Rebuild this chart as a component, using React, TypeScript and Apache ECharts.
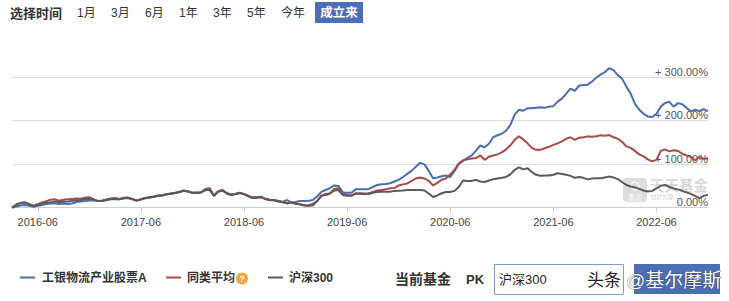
import React, { useEffect, useRef } from "react";
import * as echarts from "echarts";

const FONT = "'Liberation Sans', Arial, 'Noto Sans CJK SC', sans-serif";

const seriesNames = ["工银物流产业股票A", "同类平均", "沪深300"];
const seriesColors = ["#4a6dab", "#a8484a", "#5a5a5a"];

const startYear = 2016;
const startMonth = 3;
const endYear = 2022;
const endMonth = 12;

const tickLabels = ["2016-06", "2017-06", "2018-06", "2019-06", "2020-06", "2021-06", "2022-06"];
const yTicks = [0, 100, 200, 300];

// cumulative return (%) sampled twice a month (1st and 16th)
const fundValues = [
  0, 2.5, 5, 6, 4, 2, 4, 6, 8.5, 9.5,
  9.5, 8.5, 9.5, 8.5, 9.5, 13, 14, 15, 16.5, 16.5,
  15, 15, 17.5, 19, 19, 19, 21.5, 22.5, 20, 16.5,
  19, 22, 23.5, 25, 27.5, 28.5, 30.5, 32, 33.5, 36,
  39, 37, 34, 34, 35, 41, 42, 28, 37, 39.5,
  33, 30, 31.5, 34, 31, 27, 23, 24, 24, 20,
  18, 17, 15, 13, 17.5, 12, 13, 15, 15, 15.5,
  17.5, 25.5, 36, 40.5, 45, 51, 50, 35, 34, 34,
  42, 42.5, 42, 43, 47.5, 52, 54, 54.5, 56, 60,
  64, 70.5, 77.5, 84.5, 94, 103, 99.5, 84.5, 67.5, 69.5,
  72, 74, 70.5, 84.5, 100.5, 107.5, 114.5, 120, 131, 143,
  139, 147, 162, 166.5, 170, 177, 190.5, 214, 225.5, 223,
  229, 229, 230, 231, 230, 232.5, 233.5, 244, 251, 262.5,
  274, 269, 281, 282, 283, 290, 299.5, 306, 312, 321,
  316.5, 305, 297, 278.5, 262.5, 239, 225.5, 216, 210, 208.5,
  216, 232.5, 241, 243.5, 232.5, 240.5, 238, 230, 221.5, 225.5,
  222, 227, 221.5,
];

const avgValues = [
  0, 6, 11, 12, 7, 4, 8, 12, 15, 18,
  19, 16, 18, 19, 20, 21, 20.5, 22.5, 24, 19,
  15, 16.5, 19, 21, 22, 20, 22.5, 23, 20, 16,
  19.5, 22, 24, 25.5, 28, 28.5, 31, 32.5, 34, 36.5,
  39.5, 37, 34, 34, 35.5, 43, 44.5, 27, 38, 40.5,
  32.5, 29, 31.5, 34, 31.5, 27, 23, 24, 25, 20,
  18, 17.5, 15, 13, 10, 12, 10.5, 7.5, 5.5, 4,
  5, 15, 27, 31.5, 32.5, 43, 44.5, 31.5, 29, 28,
  32.5, 33, 32.5, 33, 36, 39.5, 40.5, 42, 44.5, 45,
  51, 53.5, 55.5, 61.5, 67, 69.5, 67, 61.5, 51, 57,
  64, 67, 76.5, 87, 102, 109, 111, 113, 114, 120,
  110, 117, 120, 122.5, 127, 134, 143.5, 156, 164, 157,
  148, 137.5, 133, 133, 136.5, 140, 144.5, 148, 152.5, 158.5,
  162, 156, 161, 162, 164, 163, 164, 166.5, 165.5, 167,
  162, 158.5, 151.5, 141, 137.5, 130.5, 122.5, 118, 111, 106.5,
  110, 130.5, 134, 129.5, 132, 130.5, 124, 120, 117, 109,
  117, 112, 114,
];

const hs300Values = [
  0, 7, 10.5, 12, 8.5, 4, 6, 9.5, 12, 12,
  14, 13, 13.5, 14, 15.5, 17, 17.5, 20, 20.5, 19,
  15, 15, 17.5, 20, 20, 19, 21.5, 22, 19, 16,
  18.5, 21.5, 23.5, 25, 27.5, 28, 30.5, 32, 33.5, 36,
  38.5, 37, 34, 34, 35, 40, 41, 27.5, 37, 39.5,
  33, 29.5, 31, 33.5, 31, 26, 22, 22.5, 24, 19.5,
  17, 17, 14, 12.5, 10, 11.5, 8.5, 7.5, 5, 5,
  8.5, 15, 27, 29, 32.5, 39.5, 40.5, 29, 27, 27,
  32.5, 32, 31.5, 31.5, 34, 36, 36.5, 36.5, 36.5, 38.5,
  39, 39.5, 40.5, 40.5, 40.5, 40.5, 39.5, 32.5, 24.5, 28,
  33, 36, 36, 38.5, 47.5, 62.5, 61.5, 61.5, 64, 60,
  59, 62.5, 65.5, 67, 68.5, 70.5, 76.5, 87, 92.5, 88,
  90.5, 82, 75.5, 73.5, 74, 74, 75.5, 79, 77.5, 75.5,
  73, 68.5, 70.5, 68.5, 65, 67, 67.5, 67.5, 69.5, 71.5,
  69.5, 65.5, 59, 52, 48.5, 46.5, 43, 39.5, 37, 38.5,
  44, 50, 52, 47.5, 44, 42, 38.5, 35, 31.5, 27,
  22, 27, 29.5,
];

const periodButtons = ["1月", "3月", "6月", "1年", "3年", "5年", "今年"];
const periodButtonX = [77, 111, 145, 179, 213, 247, 281];

function buildDates(): string[] {
  const out: string[] = [];
  let y = startYear;
  let m = startMonth;
  while (y < endYear || (y === endYear && m <= endMonth)) {
    const mm = m < 10 ? "0" + m : "" + m;
    out.push(`${y}-${mm}-01`);
    if (!(y === endYear && m === endMonth)) out.push(`${y}-${mm}-16`);
    m++;
    if (m > 12) {
      m = 1;
      y++;
    }
  }
  return out;
}

export default function App() {
  const ref = useRef<HTMLDivElement>(null);

  useEffect(() => {
    if (!ref.current) return;
    const chart = echarts.init(ref.current, undefined, { renderer: "svg" });
    const dates = buildDates();
    const isTick = (_i: number, v: string) =>
      v.endsWith("-01") && tickLabels.indexOf(v.slice(0, 7)) >= 0;

    const graphics: any[] = [];
    // top period selector
    graphics.push({
      type: "text",
      x: 10,
      y: 13,
      style: { text: "选择时间", font: `bold 13px ${FONT}`, fill: "#333", textVerticalAlign: "middle", verticalAlign: "middle" },
    });
    periodButtons.forEach((t, i) => {
      graphics.push({
        type: "text",
        x: periodButtonX[i],
        y: 13,
        style: { text: t, font: `12px ${FONT}`, fill: "#333", textVerticalAlign: "middle", verticalAlign: "middle" },
      });
    });
    graphics.push({
      type: "rect",
      shape: { x: 315, y: 2, width: 48, height: 21 },
      style: { fill: "#4a6fb5" },
    });
    graphics.push({
      type: "text",
      x: 339,
      y: 12.5,
      style: { text: "成立来", font: `bold 12.5px ${FONT}`, fill: "#fff", textAlign: "center", align: "center", textVerticalAlign: "middle", verticalAlign: "middle" },
    });

    // watermark logo inside plot
    graphics.push({
      type: "rect",
      shape: { x: 623, y: 178, width: 24, height: 24, r: 4 },
      style: { fill: "rgba(185,185,185,0.5)" },
      z: 1,
    });
    graphics.push({
      type: "circle",
      shape: { cx: 635, cy: 186, r: 4 },
      style: { fill: "none", stroke: "rgba(255,255,255,0.85)", lineWidth: 1.2 },
      z: 2,
    });
    graphics.push({
      type: "text",
      x: 635,
      y: 197,
      style: { text: "基金", font: `7px ${FONT}`, fill: "rgba(255,255,255,0.9)", textAlign: "center", align: "center", textVerticalAlign: "middle", verticalAlign: "middle" },
      z: 2,
    });
    graphics.push({
      type: "text",
      x: 650,
      y: 185,
      style: { text: "天天基金", font: `bold 14.5px 'DejaVu Serif', 'Noto Sans CJK SC', serif`, fill: "rgba(175,175,175,0.5)", textVerticalAlign: "middle", verticalAlign: "middle" },
      z: 1,
    });
    graphics.push({
      type: "text",
      x: 651,
      y: 197,
      style: { text: "钱财管理", font: `5.5px ${FONT}`, fill: "rgba(175,175,175,0.6)", textVerticalAlign: "middle", verticalAlign: "middle" },
      z: 1,
    });

    // legend
    const legendLineX = [20, 166, 268];
    const legendTextX = [42, 187, 289];
    seriesNames.forEach((name, i) => {
      graphics.push({
        type: "line",
        shape: { x1: legendLineX[i], y1: 277.5, x2: legendLineX[i] + 15, y2: 277.5 },
        style: { stroke: seriesColors[i], lineWidth: 2 },
      });
      graphics.push({
        type: "text",
        x: legendTextX[i],
        y: 278,
        style: { text: name, font: `bold 12px ${FONT}`, fill: "#333", textVerticalAlign: "middle", verticalAlign: "middle" },
      });
    });
    graphics.push({
      type: "circle",
      shape: { cx: 242, cy: 278.5, r: 6 },
      style: { fill: "#f2a437" },
    });
    graphics.push({
      type: "text",
      x: 242,
      y: 279,
      style: { text: "?", font: `bold 9px ${FONT}`, fill: "#fff", textAlign: "center", align: "center", textVerticalAlign: "middle", verticalAlign: "middle" },
    });

    // PK area
    graphics.push({
      type: "text",
      x: 395,
      y: 279,
      style: { text: "当前基金", font: `bold 14px ${FONT}`, fill: "#333", textVerticalAlign: "middle", verticalAlign: "middle" },
    });
    graphics.push({
      type: "text",
      x: 466,
      y: 279,
      style: { text: "PK", font: `bold 13px ${FONT}`, fill: "#333", textVerticalAlign: "middle", verticalAlign: "middle" },
    });
    graphics.push({
      type: "rect",
      shape: { x: 494.5, y: 264.5, width: 129, height: 30 },
      style: { fill: "#fff", stroke: "#7f9cc6", lineWidth: 1 },
    });
    graphics.push({
      type: "text",
      x: 499,
      y: 279,
      style: { text: "沪深300", font: `13px ${FONT}`, fill: "#222", textVerticalAlign: "middle", verticalAlign: "middle" },
    });
    graphics.push({
      type: "rect",
      shape: { x: 634, y: 264, width: 86, height: 30 },
      style: { fill: "#4a6fb5" },
    });
    graphics.push({
      type: "text",
      x: 587,
      y: 280,
      style: { text: "头条", font: `17px ${FONT}`, fill: "#222", textVerticalAlign: "middle", verticalAlign: "middle" },
    });
    graphics.push({
      type: "text",
      x: 626,
      y: 280,
      style: { text: "@基尔摩斯", font: `19px ${FONT}`, fill: "#fff", stroke: "rgba(40,40,40,0.55)", lineWidth: 1, textVerticalAlign: "middle", verticalAlign: "middle" },
    });

    const values = [fundValues, avgValues, hs300Values];

    chart.setOption({
      animation: false,
      backgroundColor: "#fff",
      textStyle: { fontFamily: FONT },
      grid: { left: 12, right: 21, top: 77.3, bottom: 93.4, containLabel: false },
      xAxis: {
        type: "category",
        data: dates,
        boundaryGap: false,
        axisLine: { lineStyle: { color: "#c7d0dc", width: 1 } },
        axisTick: { interval: isTick, length: 5, lineStyle: { color: "#c7d0dc" } },
        axisLabel: {
          interval: isTick,
          formatter: (v: string) => v.slice(0, 7),
          color: "#444",
          fontSize: 11,
          margin: 9,
          fontFamily: FONT,
        },
        splitLine: { show: false },
      },
      yAxis: {
        type: "value",
        position: "right",
        min: yTicks[0],
        max: yTicks[yTicks.length - 1],
        interval: 100,
        axisLine: { show: false },
        axisTick: { show: false },
        axisLabel: {
          inside: true,
          margin: 0,
          verticalAlign: "bottom",
          color: "#555",
          fontSize: 11,
          fontFamily: FONT,
          formatter: (v: number) => (v === 0 ? "0.00%" : "+ " + v.toFixed(2) + "%"),
        },
        splitLine: { lineStyle: { color: "#dadada", width: 1 } },
      },
      series: seriesNames.map((name, i) => ({
        name,
        type: "line",
        data: values[i],
        showSymbol: false,
        symbol: "none",
        clip: false,
        lineStyle: { color: seriesColors[i], width: 2 },
        itemStyle: { color: seriesColors[i] },
        z: 3 + i,
      })),
      graphic: graphics,
    });

    return () => chart.dispose();
  }, []);

  return (
    <div
      ref={ref}
      style={{ position: "fixed", left: 0, top: 0, width: 729, height: 301, background: "#fff" }}
    />
  );
}
